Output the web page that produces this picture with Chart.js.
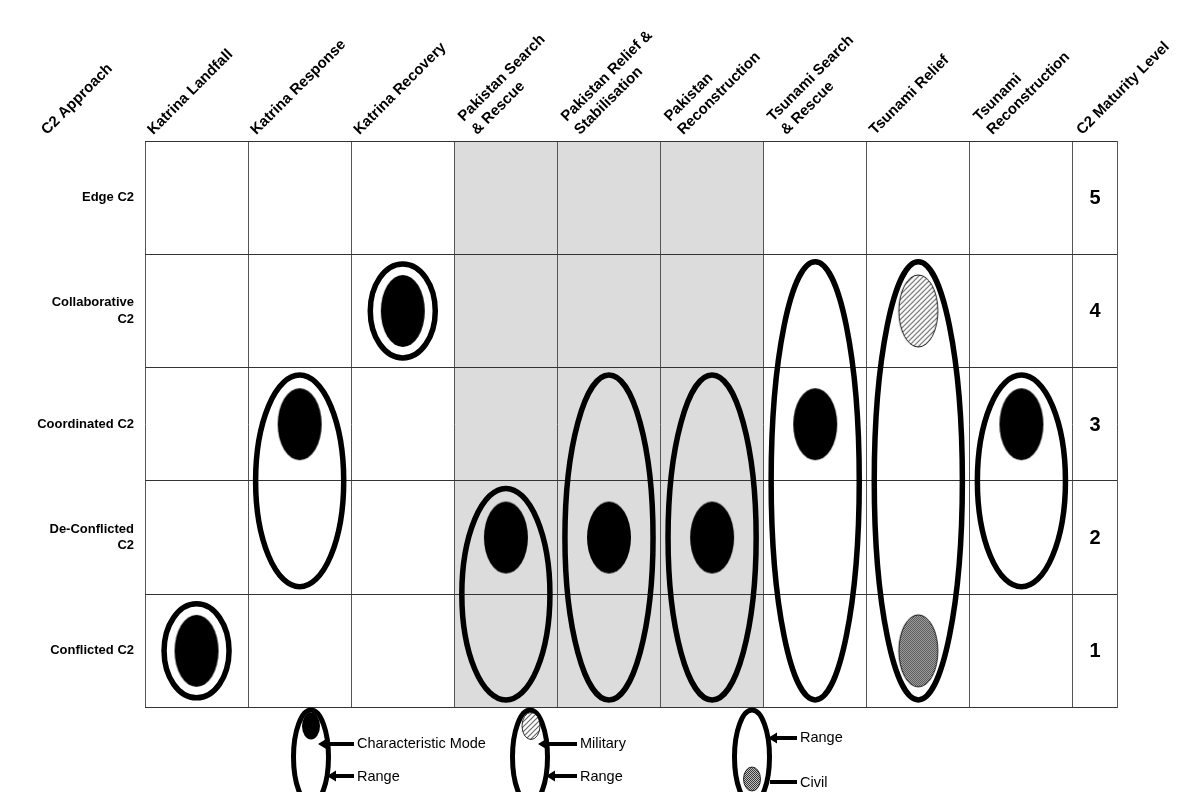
<!DOCTYPE html>
<html><head><meta charset="utf-8">
<script src="https://cdn.jsdelivr.net/npm/chart.js@4"></script>
<style>html,body{margin:0;padding:0;background:#fff;}#wrap{width:1182px;height:792px;position:relative;}</style>
</head><body><div id="wrap"><canvas id="c"></canvas></div>
<script>
// ---- data ----
const caseLabels = [['Katrina Landfall'],['Katrina Response'],['Katrina Recovery'],['Pakistan Search','& Rescue'],['Pakistan Relief &','Stabilisation'],['Pakistan','Reconstruction'],['Tsunami Search','& Rescue'],['Tsunami Relief'],['Tsunami','Reconstruction']];
const approachLabels = [['Conflicted C2'],['De-Conflicted','C2'],['Coordinated C2'],['Collaborative','C2'],['Edge C2']]; // levels 1..5
const maturityLabels = ['1','2','3','4','5'];
const cornerLabels = ['C2 Approach','C2 Maturity Level'];
const rangeMin = [1,2,4,1,1,1,1,1,2];
const rangeMax = [1,3,4,2,3,3,4,4,3];
const modeLevel = [1,3,4,2,2,2,3,null,3];
const militaryLevel = [null,null,null,null,null,null,null,4,null];
const civilLevel = [null,null,null,null,null,null,null,1,null];
const shadedCases = [3,4,5];
const legendTexts = [['Characteristic Mode','Range'],['Military','Range'],['Range','Civil']];

// ---- styles ----
const FONT = "'Liberation Sans', Arial, sans-serif";
Chart.defaults.font.family = FONT;
Chart.defaults.color = '#000';
const MAT_W = 0.427;              // width of maturity column in case units
const XMAX = caseLabels.length + MAT_W;

function makePattern(kind){
  const c = document.createElement('canvas');
  const g = c.getContext('2d');
  if (kind === 'hatch'){
    c.width = 5; c.height = 5;
    g.fillStyle = '#fff'; g.fillRect(0,0,5,5);
    g.strokeStyle = '#6a6a6a'; g.lineWidth = 1.2;
    g.beginPath(); g.moveTo(-1,6); g.lineTo(6,-1); g.moveTo(-1,1); g.lineTo(1,-1); g.moveTo(4,6); g.lineTo(6,4); g.stroke();
  } else {
    c.width = 2; c.height = 2;
    g.fillStyle = '#c0c0c0'; g.fillRect(0,0,2,2);
    g.fillStyle = '#3a3a3a'; g.fillRect(0,0,1,1); g.fillRect(1,1,1,1);
  }
  return c;
}
function ellipseImage(rx, ry, kind){
  const c = document.createElement('canvas');
  c.width = Math.ceil(rx*2+4); c.height = Math.ceil(ry*2+4);
  const g = c.getContext('2d');
  g.beginPath(); g.ellipse(c.width/2, c.height/2, rx, ry, 0, 0, Math.PI*2);
  if (kind === 'solid'){ g.fillStyle = '#000'; g.fill(); }
  else { g.fillStyle = g.createPattern(makePattern(kind), 'repeat'); g.fill(); g.lineWidth = 0.9; g.strokeStyle = '#000'; g.stroke(); }
  return c;
}
const modeImg = ellipseImage(22, 36, 'solid');
const milImg = ellipseImage(19.5, 36, 'hatch');
const civImg = ellipseImage(19.5, 36, 'dots');

function pts(levels){ return levels.map((l,i)=> l==null?null:{x:i+0.5,y:l}).filter(Boolean); }
function ell(ctx, cx, cy, rx, ry){ ctx.beginPath(); ctx.ellipse(cx, cy, rx, ry, 0, 0, Math.PI*2); }

const gridPlugin = {
  id:'shade',
  beforeDraw(chart){
    const {ctx, chartArea:a, scales:{x}} = chart;
    ctx.save();
    ctx.fillStyle = '#fff'; ctx.fillRect(0,0,chart.width,chart.height);
    ctx.fillStyle = '#dcdcdc';
    shadedCases.forEach(i=>{
      const l = x.getPixelForValue(i), r = x.getPixelForValue(i+1);
      ctx.fillRect(l, a.top, r-l, a.bottom-a.top);
    });
    ctx.restore();
  },
  beforeDatasetsDraw(chart){
    const {ctx, scales:{x,y}} = chart;
    ctx.save();
    ctx.strokeStyle = '#000'; ctx.lineWidth = 5.5;
    rangeMin.forEach((mn,i)=>{
      const mx = rangeMax[i];
      const cx = x.getPixelForValue(i+0.5);
      const colW = x.getPixelForValue(i+1) - x.getPixelForValue(i);
      if (mn === mx){
        ell(ctx, cx, y.getPixelForValue(mn), 32.5, 47);
      } else {
        const t = y.getPixelForValue(mx+0.5), b = y.getPixelForValue(mn-0.5);
        ell(ctx, cx, (t+b)/2, colW/2-7.5, (b-t)/2-7.5);
      }
      ctx.stroke();
    });
    ctx.restore();
  },
  afterDraw(chart){
    const {ctx, scales:{x,y}} = chart;
    ctx.save();
    // maturity numbers
    ctx.font = 'bold 20px ' + FONT; ctx.textAlign = 'center'; ctx.textBaseline = 'middle'; ctx.fillStyle = '#000';
    const mcx = x.getPixelForValue(caseLabels.length + MAT_W/2);
    maturityLabels.forEach((t,k)=> ctx.fillText(t, mcx, y.getPixelForValue(k+1)+1));
    // legend
    const arrow = (x1, yy, tip, head=true)=>{
      ctx.lineWidth = 4; ctx.strokeStyle = '#000'; ctx.fillStyle = '#000';
      ctx.beginPath(); ctx.moveTo(x1, yy); ctx.lineTo(head?tip+6:tip, yy); ctx.stroke();
      if (head){ ctx.beginPath(); ctx.moveTo(tip, yy); ctx.lineTo(tip+9, yy-5.5); ctx.lineTo(tip+9, yy+5.5); ctx.closePath(); ctx.fill(); }
    };
    const legendRange = (cx)=>{ ctx.lineWidth = 5; ctx.strokeStyle = '#000'; ell(ctx, cx, 757, 17.5, 47); ctx.stroke(); };
    ctx.font = '14.5px ' + FONT; ctx.textAlign = 'left'; ctx.textBaseline = 'middle';
    // 1
    legendRange(311);
    ell(ctx, 311, 726, 9, 13.5); ctx.fillStyle = '#000'; ctx.fill();
    arrow(354, 744, 318); arrow(354, 776, 327);
    ctx.fillStyle='#000'; ctx.fillText(legendTexts[0][0], 357, 744); ctx.fillText(legendTexts[0][1], 357, 777);
    // 2
    legendRange(530);
    ell(ctx, 531, 726, 9, 13.5); ctx.fillStyle = ctx.createPattern(makePattern('hatch'),'repeat'); ctx.fill(); ctx.lineWidth=0.8; ctx.strokeStyle='#000'; ctx.stroke();
    arrow(577, 744, 538); arrow(577, 776, 546);
    ctx.fillStyle='#000'; ctx.fillText(legendTexts[1][0], 580, 744); ctx.fillText(legendTexts[1][1], 580, 777);
    // 3
    legendRange(752);
    ell(ctx, 752, 779, 8.5, 12); ctx.fillStyle = ctx.createPattern(makePattern('dots'),'repeat'); ctx.fill(); ctx.lineWidth=0.8; ctx.strokeStyle='#000'; ctx.stroke();
    arrow(797, 738, 768); arrow(797, 782, 770, false);
    ctx.fillStyle='#000'; ctx.fillText(legendTexts[2][0], 800, 738); ctx.fillText(legendTexts[2][1], 800, 783);
    ctx.restore();
  }
};

const topLabels = [[cornerLabels[0]], ...caseLabels, [cornerLabels[1]]];
const topPos = [-0.85, ...caseLabels.map((l,i)=> i + (l.length > 1 ? 0.32 : 0.18)), caseLabels.length + 0.19];

new Chart(document.getElementById('c'), {
  type:'scatter',
  data:{ datasets:[
    {data:pts(modeLevel), pointStyle:modeImg, pointRadius:5},
    {data:pts(militaryLevel), pointStyle:milImg, pointRadius:5},
    {data:pts(civilLevel), pointStyle:civImg, pointRadius:5}
  ]},
  options:{
    responsive:true, maintainAspectRatio:false, animation:false,
    layout:{ padding:{top:0,left:0,right:65,bottom:84.5}, autoPadding:false },
    plugins:{ legend:{display:false}, tooltip:{enabled:false} },
    scales:{
      x:{ type:'linear', position:'bottom', min:0, max:XMAX,
          afterBuildTicks:s=>{ s.ticks = [...caseLabels.map((_,i)=>({value:i})), {value:caseLabels.length}, {value:XMAX}]; },
          afterFit:s=>{ s.height=0; s.paddingLeft=0; s.paddingRight=0; },
          ticks:{display:false}, border:{display:false},
          grid:{color:'#555', lineWidth:1, drawTicks:false} },
      xt:{ type:'linear', position:'top', min:0, max:XMAX,
          afterBuildTicks:s=>{ s.ticks = topPos.map(v=>({value:v})); },
          afterFit:s=>{ s.height=141; s.paddingLeft=0; s.paddingRight=0; },
          ticks:{ autoSkip:false, minRotation:45, maxRotation:45, padding:2, font:{size:15, weight:'bold', lineHeight:1.25},
                  callback:(v,i)=>topLabels[i] },
          border:{display:false}, grid:{display:false, drawTicks:false} },
      y:{ type:'linear', position:'left', min:0.5, max:5.5,
          afterBuildTicks:s=>{ const t=[]; for(let v=0.5; v<=5.5; v+=0.5) t.push({value:v}); s.ticks=t; },
          afterFit:s=>{ s.width=145; s.paddingTop=0; s.paddingBottom=0; },
          ticks:{ padding:11, font:{size:13, weight:'bold', lineHeight:1.25},
                  callback:v=> Number.isInteger(v) ? approachLabels[v-1] : '' },
          border:{display:false},
          grid:{ drawTicks:false, lineWidth:1, color:c=> Number.isInteger(c.tick.value) ? 'rgba(0,0,0,0)' : '#333' } }
    }
  },
  plugins:[gridPlugin]
});
</script></body></html>
